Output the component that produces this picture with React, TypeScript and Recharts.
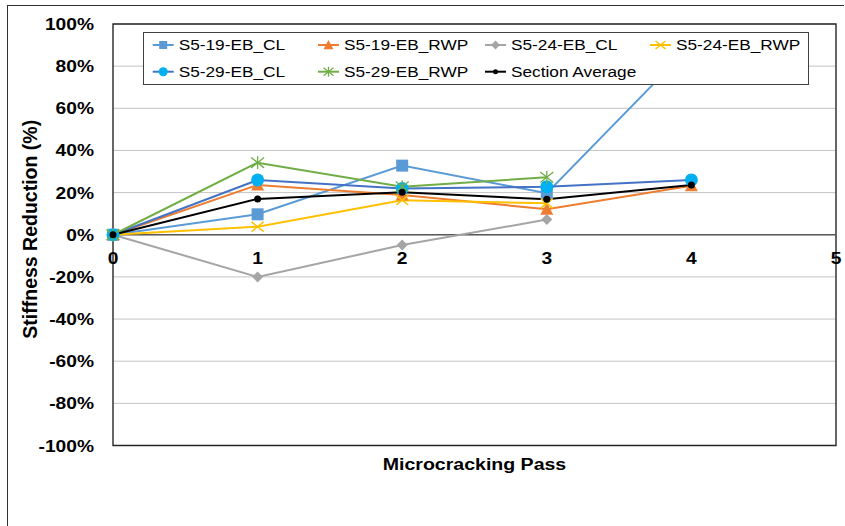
import React from 'react';
import {
  LineChart,
  Line,
  XAxis,
  YAxis,
  CartesianGrid,
  ReferenceLine,
  ReferenceArea,
  ReferenceDot,
  Legend,
} from 'recharts';

// ---------- data ----------
const passes = [0, 1, 2, 3, 4];
const s519CL = [0, 9.7, 32.8, 19.7, 90];
const s519RWP = [0, 23.6, 18.9, 12.1, 23.3];
const s524CL = [0, -20, -4.9, 7.2, null];
const s524RWP = [0, 3.8, 16.4, 14.9, null];
const s529CL = [0, 26, 21.9, 22.8, 26];
const s529RWP = [0, 34.2, 22.8, 27.3, null];
const sectionAvg = [0, 17, 20.2, 16.8, 23.6];

const yTicks = [-100, -80, -60, -40, -20, 0, 20, 40, 60, 80, 100];
const xTicks = [0, 1, 2, 3, 4, 5];

const xTitle = 'Microcracking Pass';
const yTitle = 'Stiffness Reduction (%)';

// ---------- series styling ----------
type MarkerKind = 'square' | 'triangle' | 'diamond' | 'x' | 'circle' | 'star' | 'dot';
interface SeriesDef {
  key: string;
  name: string;
  values: (number | null)[];
  line: string;
  fill: string;
  marker: MarkerKind;
  size: number;
  legendSize: number;
}

const series: SeriesDef[] = [
  { key: 's519CL', name: 'S5-19-EB_CL', values: s519CL, line: '#5B9BD5', fill: '#5B9BD5', marker: 'square', size: 12, legendSize: 8 },
  { key: 's519RWP', name: 'S5-19-EB_RWP', values: s519RWP, line: '#ED7D31', fill: '#ED7D31', marker: 'triangle', size: 13, legendSize: 10 },
  { key: 's524CL', name: 'S5-24-EB_CL', values: s524CL, line: '#A5A5A5', fill: '#A5A5A5', marker: 'diamond', size: 11, legendSize: 9 },
  { key: 's524RWP', name: 'S5-24-EB_RWP', values: s524RWP, line: '#FFC000', fill: '#FFC000', marker: 'x', size: 12, legendSize: 10 },
  { key: 's529CL', name: 'S5-29-EB_CL', values: s529CL, line: '#4472C4', fill: '#00B0F0', marker: 'circle', size: 13, legendSize: 9 },
  { key: 's529RWP', name: 'S5-29-EB_RWP', values: s529RWP, line: '#70AD47', fill: '#70AD47', marker: 'star', size: 13, legendSize: 10 },
  { key: 'avg', name: 'Section Average', values: sectionAvg, line: '#000000', fill: '#000000', marker: 'dot', size: 7, legendSize: 5 },
];

const data = passes.map((x, i) => {
  const row: Record<string, number | null> = { x };
  series.forEach((s) => {
    row[s.key] = s.values[i];
  });
  return row;
});

const FONT = '"Liberation Sans", Arial, Helvetica, sans-serif';

function drawMarker(kind: MarkerKind, cx: number, cy: number, s: number, color: string) {
  const h = s / 2;
  switch (kind) {
    case 'square':
      return <rect x={cx - h} y={cy - h} width={s} height={s} fill={color} />;
    case 'triangle':
      return <polygon points={`${cx},${cy - h} ${cx + h},${cy + h * 0.85} ${cx - h},${cy + h * 0.85}`} fill={color} />;
    case 'diamond':
      return <polygon points={`${cx},${cy - h} ${cx + h},${cy} ${cx},${cy + h} ${cx - h},${cy}`} fill={color} />;
    case 'circle':
      return <circle cx={cx} cy={cy} r={h} fill={color} />;
    case 'dot':
      return <circle cx={cx} cy={cy} r={h} fill={color} />;
    case 'x':
      return (
        <g stroke={color} strokeWidth={1.5}>
          <line x1={cx - h} y1={cy - h * 0.8} x2={cx + h} y2={cy + h * 0.8} />
          <line x1={cx - h} y1={cy + h * 0.8} x2={cx + h} y2={cy - h * 0.8} />
        </g>
      );
    case 'star':
      return (
        <g stroke={color} strokeWidth={1.3}>
          <line x1={cx - h} y1={cy - h * 0.8} x2={cx + h} y2={cy + h * 0.8} />
          <line x1={cx - h} y1={cy + h * 0.8} x2={cx + h} y2={cy - h * 0.8} />
          <line x1={cx} y1={cy - h} x2={cx} y2={cy + h} />
        </g>
      );
    default:
      return null;
  }
}

const makeDot = (s: SeriesDef) => (props: any) => {
  const { cx, cy, index, value } = props;
  if (cx == null || cy == null || value == null || Number.isNaN(cy)) {
    return <g key={`${s.key}-dot-${index}`} />;
  }
  return <g key={`${s.key}-dot-${index}`}>{drawMarker(s.marker, cx, cy, s.size, s.fill)}</g>;
};

const YTick = (props: any) => {
  const { x, y, payload } = props;
  return (
    <g transform={`translate(${x},${y + 6})`}>
      <text transform="scale(1.13,1)" textAnchor="end" fontFamily={FONT} fontWeight={700} fontSize={17} fill="#000">
        {`${payload.value}%`}
      </text>
    </g>
  );
};

const xTickLabel = (value: number) => (props: any) => {
  const vb = props.viewBox || {};
  const cx = (vb.x ?? 0) + (vb.width ?? 0) / 2;
  const cy = (vb.y ?? 0) + (vb.height ?? 0) / 2;
  return (
    <g transform={`translate(${cx},${cy + 29.5})`}>
      <text transform="scale(1.13,1)" textAnchor="middle" fontFamily={FONT} fontWeight={700} fontSize={17} fill="#000">
        {value}
      </text>
    </g>
  );
};

const XTitle = (props: any) => {
  const vb = props.viewBox || {};
  const cx = vb.x + vb.width / 2;
  return (
    <g transform={`translate(${cx},${vb.y + 24.5})`}>
      <text transform="scale(1.15,1)" textAnchor="middle" fontFamily={FONT} fontWeight={700} fontSize={17} fill="#000">
        {xTitle}
      </text>
    </g>
  );
};

const YTitle = (props: any) => {
  const vb = props.viewBox || {};
  const cy = vb.y + vb.height / 2 - 5.5;
  return (
    <text
      transform={`translate(37.3,${cy}) rotate(-90)`}
      textAnchor="middle"
      fontFamily={FONT}
      fontWeight={700}
      fontSize={19.5}
      fill="#000"
    >
      {yTitle}
    </text>
  );
};

const LegendBox = () => {
  const colX = [9.7, 175, 342, 507];
  const rowY = [13, 39.7];
  return (
    <svg width={666} height={53} style={{ display: 'block' }}>
      <rect x={0.5} y={0.5} width={665} height={52} fill="#ffffff" stroke="#404040" strokeWidth={1} />
      {series.map((s, i) => {
        const x0 = colX[i % 4];
        const y0 = rowY[Math.floor(i / 4)];
        return (
          <g key={s.key}>
            <line x1={x0} x2={x0 + 21} y1={y0} y2={y0} stroke={s.line} strokeWidth={2} />
            {drawMarker(s.marker, x0 + 10.5, y0, s.legendSize, s.fill)}
            <g transform={`translate(${x0 + 26},${y0 + 5.4})`}>
              <text transform="scale(1.15,1)" fontFamily={FONT} fontSize={15} fill="#000">
                {s.name}
              </text>
            </g>
          </g>
        );
      })}
    </svg>
  );
};

export default function App() {
  return (
    <div
      style={{
        position: 'absolute',
        left: 0,
        top: 0,
        width: 845,
        height: 526,
        overflow: 'hidden',
        background: '#ffffff',
      }}
    >
      <div
        style={{
          position: 'absolute',
          left: 7,
          top: 5,
          width: 837,
          height: 521,
          borderTop: '1px solid #303030',
          borderLeft: '1px solid #303030',
          boxSizing: 'border-box',
        }}
      />
      <div style={{ position: 'absolute', left: 0, top: 0 }}>
        <LineChart
          width={845}
          height={526}
          data={data}
          margin={{ top: 24, right: 9, bottom: 0, left: 0 }}
          style={{ fontFamily: FONT }}
        >
          <CartesianGrid stroke="#C4C4C4" strokeWidth={1} />
          <XAxis
            dataKey="x"
            type="number"
            domain={[0, 5]}
            ticks={xTicks}
            tick={false}
            tickLine={false}
            axisLine={false}
            height={80.5}
            label={{ content: XTitle }}
          />
          <YAxis
            type="number"
            domain={[-100, 100]}
            ticks={yTicks}
            interval={0}
            width={113}
            tickLine={false}
            axisLine={false}
            tickSize={0}
            tickMargin={19}
            tick={YTick}
            label={{ content: YTitle }}
          />
          <ReferenceArea x1={0} x2={5} y1={-100} y2={100} fill="none" fillOpacity={0} stroke="#262626" strokeWidth={1.3} />
          <ReferenceLine y={0} stroke="#595959" strokeWidth={1.5} />
          {series.map((s) => (
            <Line
              key={s.key}
              dataKey={s.key}
              name={s.name}
              type="linear"
              stroke={s.line}
              strokeWidth={2}
              dot={makeDot(s)}
              activeDot={false}
              connectNulls={false}
              isAnimationActive={false}
            />
          ))}
          {xTicks.map((t) => (
            <ReferenceDot
              key={`xt-${t}`}
              x={t}
              y={0}
              r={1}
              fill="none"
              stroke="none"
              label={{ content: xTickLabel(t) }}
            />
          ))}
          <Legend
            layout="vertical"
            align="center"
            verticalAlign="middle"
            wrapperStyle={{ left: 143, top: 32, width: 666, height: 53 }}
            content={LegendBox}
          />
        </LineChart>
      </div>
    </div>
  );
}
